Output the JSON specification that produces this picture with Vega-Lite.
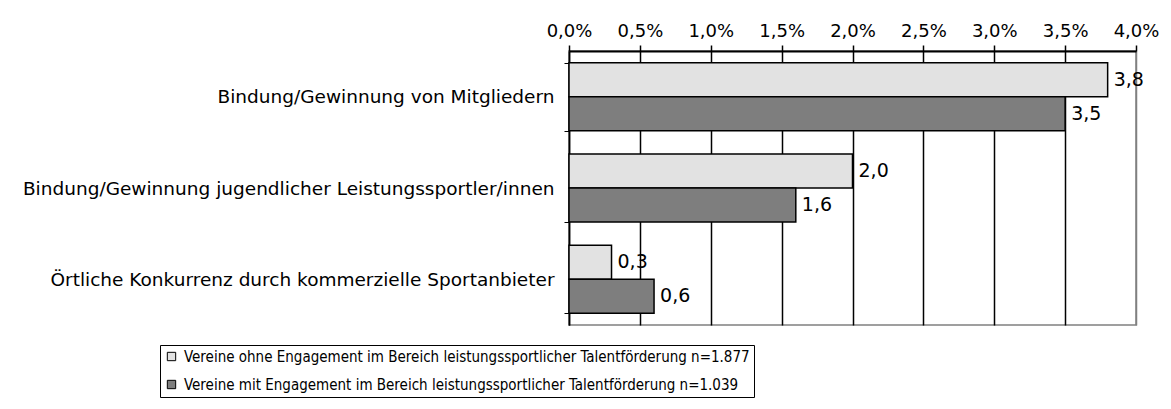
{
  "$schema": "https://vega.github.io/schema/vega-lite/v6.json",
  "autosize": "none",
  "width": 567,
  "height": 274,
  "padding": {"left": 569, "top": 51, "right": 35, "bottom": 84},
  "background": "white",
  "config": {
    "font": "DejaVu Sans",
    "view": {"stroke": "#808080", "strokeWidth": 1.5},
    "axis": {"labelColor": "black", "labelFont": "DejaVu Sans"}
  },
  "data": {
    "values": [
      {"cat": "Bindung/Gewinnung von Mitgliedern", "group": "Vereine ohne Engagement im Bereich leistungssportlicher Talentförderung n=1.877", "o": 1, "value": 3.8, "label": "3,8"},
      {"cat": "Bindung/Gewinnung von Mitgliedern", "group": "Vereine mit Engagement im Bereich leistungssportlicher Talentförderung n=1.039", "o": 2, "value": 3.5, "label": "3,5"},
      {"cat": "Bindung/Gewinnung jugendlicher Leistungssportler/innen", "group": "Vereine ohne Engagement im Bereich leistungssportlicher Talentförderung n=1.877", "o": 1, "value": 2.0, "label": "2,0"},
      {"cat": "Bindung/Gewinnung jugendlicher Leistungssportler/innen", "group": "Vereine mit Engagement im Bereich leistungssportlicher Talentförderung n=1.039", "o": 2, "value": 1.6, "label": "1,6"},
      {"cat": "Örtliche Konkurrenz durch kommerzielle Sportanbieter", "group": "Vereine ohne Engagement im Bereich leistungssportlicher Talentförderung n=1.877", "o": 1, "value": 0.3, "label": "0,3"},
      {"cat": "Örtliche Konkurrenz durch kommerzielle Sportanbieter", "group": "Vereine mit Engagement im Bereich leistungssportlicher Talentförderung n=1.039", "o": 2, "value": 0.6, "label": "0,6"}
    ]
  },
  "encoding": {
    "y": {
      "field": "cat", "type": "nominal", "sort": null, "title": null,
      "scale": {"paddingInner": 0.255, "paddingOuter": 0.128},
      "axis": {
        "orient": "left", "tickBand": "extent", "tickSize": 5, "tickColor": "black",
        "domainColor": "black", "domainWidth": 1.5, "labelFontSize": 18.5, "labelPadding": 10,
        "labelLimit": 600, "grid": false
      }
    },
    "yOffset": {"field": "o", "type": "ordinal", "sort": "ascending"},
    "x": {
      "field": "value", "type": "quantitative", "title": null,
      "scale": {"domain": [0, 4], "nice": false},
      "axis": {
        "orient": "top", "values": [0, 0.5, 1, 1.5, 2, 2.5, 3, 3.5, 4],
        "labelExpr": "replace(format(datum.value, '.1f'), '.', ',') + '%'",
        "labelFontSize": 18, "labelPadding": 5, "tickSize": 6, "tickColor": "black", "tickWidth": 1.5,
        "domainColor": "black", "domainWidth": 2, "grid": true,
        "gridColor": {"condition": {"test": "datum.value === 4", "value": "#808080"}, "value": "black"},
        "gridWidth": 1.5, "gridOpacity": 1, "labelFlush": false
      }
    }
  },
  "layer": [
    {
      "mark": {"type": "bar", "stroke": "black", "strokeWidth": 1.5},
      "encoding": {
        "color": {
          "field": "group", "type": "nominal", "sort": null, "title": null,
          "scale": {"range": ["#e2e2e2", "#7e7e7e"]},
          "legend": {
            "orient": "none", "legendX": -409, "legendY": 294, "direction": "vertical",
            "strokeColor": "black", "padding": 4, "symbolType": "square", "symbolSize": 70,
            "symbolStrokeColor": "black", "symbolStrokeWidth": 1, "labelFontSize": 15,
            "labelLimit": 800, "labelOffset": 5, "rowPadding": 12, "labelColor": "black",
            "labelFont": "DejaVu Sans Condensed"
          }
        }
      }
    },
    {
      "mark": {"type": "text", "align": "left", "baseline": "middle", "dx": 6, "fontSize": 19, "color": "black"},
      "encoding": {"text": {"field": "label"}}
    }
  ]
}
